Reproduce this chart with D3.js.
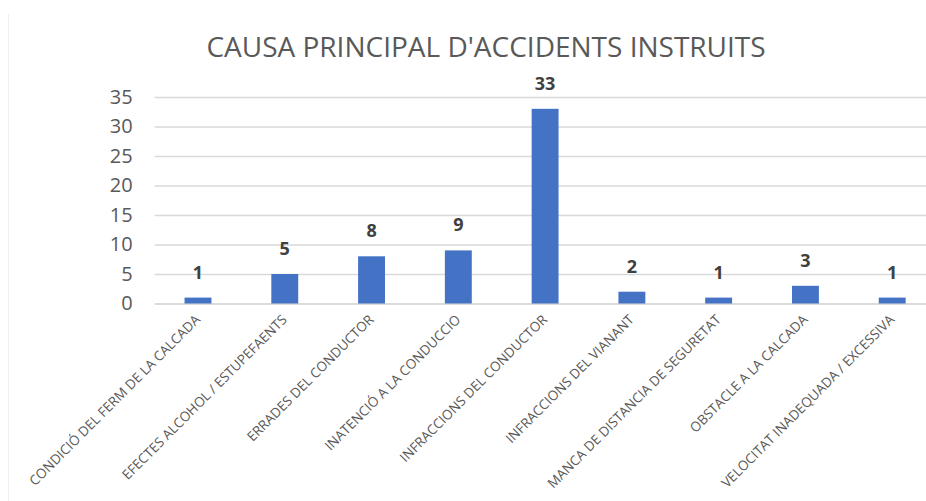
<!DOCTYPE html>
<html><head><meta charset="utf-8">
<script src="https://cdn.jsdelivr.net/npm/d3@7"></script>
<style>
body{margin:0;background:#fff;}
svg{display:block;}
text{font-family:"Open Sans",sans-serif;}
</style></head>
<body>
<svg id="c" width="926" height="501"></svg>
<script>
const categories = ["CONDICIÓ DEL FERM DE LA CALCADA","EFECTES ALCOHOL / ESTUPEFAENTS","ERRADES DEL CONDUCTOR","INATENCIÓ A LA CONDUCCIO","INFRACCIONS DEL CONDUCTOR","INFRACCIONS DEL VIANANT","MANCA DE DISTANCIA DE SEGURETAT","OBSTACLE A LA CALCADA","VELOCITAT INADEQUADA / EXCESSIVA"];
const values = [1,5,8,9,33,2,1,3,1];
const yTicks = [0,5,10,15,20,25,30,35];
const title = "CAUSA PRINCIPAL D'ACCIDENTS INSTRUITS";

const svg = d3.select("#c");
const x = d3.scaleBand().domain(categories).range([154.6, 935.6]).paddingInner(0.69).paddingOuter(0.345);
const y = d3.scaleLinear().domain([0,35]).range([303.5, 97]);

svg.append("line").attr("x1",8.5).attr("x2",8.5).attr("y1",14).attr("y2",501)
  .attr("stroke","#efefef").attr("stroke-width",1);

svg.append("text").attr("x",486).attr("y",57).attr("text-anchor","middle")
  .attr("font-size",28).attr("fill","#595959").text(title);

const ya = svg.append("g").attr("transform","translate(154.6,0)")
  .call(d3.axisLeft(y).tickValues(yTicks).tickSize(-781).tickPadding(22));
ya.select(".domain").remove();
ya.selectAll(".tick line").attr("stroke","#d9d9d9").attr("stroke-width",1.3);
ya.selectAll(".tick text").attr("font-size",20).attr("fill","#595959").attr("font-family",null);

const xa = svg.append("g").attr("transform","translate(0,303.5)")
  .call(d3.axisBottom(x).tickSize(0).tickPadding(0));
xa.select(".domain").attr("stroke","#d9d9d9").attr("stroke-width",1.3);
xa.selectAll(".tick text").attr("font-size",13.5).attr("fill","#595959").attr("font-family",null)
  .attr("text-anchor","end").attr("dy",null).attr("y",0)
  .attr("transform","translate(3,17) rotate(-45)");

svg.append("g").selectAll("rect").data(values).join("rect")
  .attr("x",(d,i)=>x(categories[i])).attr("width",x.bandwidth())
  .attr("y",d=>y(d)).attr("height",d=>y(0)-y(d)).attr("fill","#4472c4");

svg.append("g").selectAll("text").data(values).join("text")
  .attr("x",(d,i)=>x(categories[i])+x.bandwidth()/2).attr("y",d=>y(d)-19)
  .attr("text-anchor","middle").attr("font-size",18).attr("font-weight","bold").attr("fill","#404040")
  .text(d=>d);
</script>
</body></html>
